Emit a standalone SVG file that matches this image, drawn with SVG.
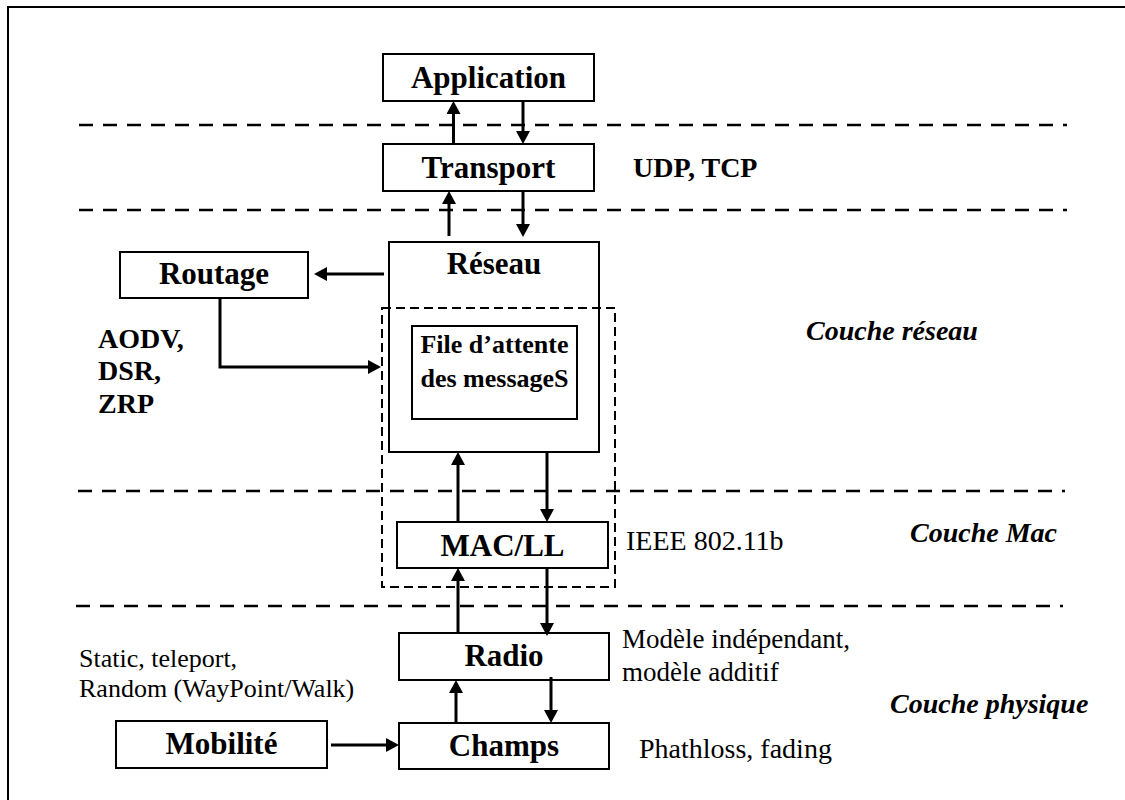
<svg xmlns="http://www.w3.org/2000/svg" width="1125" height="800" viewBox="0 0 1125 800">
  <style>
    .box { fill: #fff; stroke: #000; stroke-width: 2; }
    .layer { fill: none; stroke: #000; stroke-width: 2.5; stroke-dasharray: 14 10; }
    .group { fill: none; stroke: #000; stroke-width: 2; stroke-dasharray: 9 5; }
    .wire { fill: none; stroke: #000; stroke-width: 3; }
    .lbl { font-family: "Liberation Serif", "Times New Roman", serif; font-weight: bold; font-size: 31px; text-anchor: middle; fill: #000; }
    .small { font-size: 26px; }
    .note { font-family: "Liberation Serif", "Times New Roman", serif; font-size: 28px; fill: #000; }
    .bold { font-weight: bold; }
    .layername { font-family: "Liberation Serif", "Times New Roman", serif; font-weight: bold; font-style: italic; font-size: 28px; fill: #000; }
  </style>
  <defs>
    <marker id="head" viewBox="0 0 13 14" refX="1" refY="7" markerWidth="13" markerHeight="14" markerUnits="userSpaceOnUse" orient="auto">
      <path d="M0,0 L13,7 L0,14 z" fill="#000"/>
    </marker>
  </defs>

  <!-- frame -->
  <rect x="8" y="7" width="1130" height="800" fill="none" stroke="#000" stroke-width="2"/>

  <!-- layer separators -->
  <g id="separators">
    <line class="layer" x1="79" y1="125" x2="1067" y2="125"/>
    <line class="layer" x1="79" y1="210" x2="1067" y2="210"/>
    <line class="layer" x1="78" y1="491" x2="1065" y2="491"/>
    <line class="layer" x1="76" y1="606" x2="1063" y2="606"/>
  </g>

  <!-- nodes -->
  <g id="application">
    <rect class="box" x="383" y="54" width="211" height="47"/>
    <text class="lbl" x="488.5" y="88">Application</text>
  </g>
  <g id="transport">
    <rect class="box" x="383" y="144" width="211" height="47"/>
    <text class="lbl" x="488.5" y="178">Transport</text>
  </g>
  <text class="note bold" x="633" y="177">UDP, TCP</text>

  <g id="reseau">
    <rect class="box" x="389" y="242" width="210" height="210"/>
    <text class="lbl" x="494" y="274">Réseau</text>
  </g>
  <g id="file-attente">
    <rect class="box" x="412" y="326" width="165" height="93"/>
    <text class="lbl small" x="494.5" y="353">File d’attente</text>
    <text class="lbl small" x="494.5" y="387">des messageS</text>
  </g>
  <g id="routage">
    <rect class="box" x="120" y="252" width="188" height="46"/>
    <text class="lbl" x="214" y="284">Routage</text>
  </g>
  <g id="protocoles">
    <text class="note bold" x="98" y="348">AODV,</text>
    <text class="note bold" x="98" y="380">DSR,</text>
    <text class="note bold" x="98" y="413">ZRP</text>
  </g>
  <text class="layername" x="806" y="340">Couche réseau</text>

  <!-- dashed grouping around queue and MAC -->
  <rect id="groupe" class="group" x="382" y="308" width="233" height="279"/>

  <g id="mac">
    <rect class="box" x="397" y="522" width="211" height="46"/>
    <text class="lbl" x="502.5" y="556">MAC/LL</text>
  </g>
  <text class="note" x="626" y="550">IEEE 802.11b</text>
  <text class="layername" x="910" y="542">Couche Mac</text>

  <g id="radio">
    <rect class="box" x="399" y="633" width="210" height="47"/>
    <text class="lbl" x="504" y="666">Radio</text>
  </g>
  <text class="note" x="622" y="648" style="font-size:27px">Modèle indépendant,</text>
  <text class="note" x="622" y="681" style="font-size:27px">modèle additif</text>

  <text class="note" x="79" y="667" style="font-size:26px">Static, teleport,</text>
  <text class="note" x="79" y="697" style="font-size:26px">Random (WayPoint/Walk)</text>
  <text class="layername" x="890" y="713">Couche physique</text>

  <g id="mobilite">
    <rect class="box" x="116" y="721" width="211" height="47"/>
    <text class="lbl" x="221.5" y="754">Mobilité</text>
  </g>
  <g id="champs">
    <rect class="box" x="399" y="723" width="210" height="46"/>
    <text class="lbl" x="504" y="756">Champs</text>
  </g>
  <text class="note" x="639" y="758">Phathloss, fading</text>

  <!-- connectors -->
  <g id="connectors">
    <line class="wire" x1="453.5" y1="144" x2="453.5" y2="113" marker-end="url(#head)"/>
    <line class="wire" x1="523" y1="101" x2="523" y2="132" marker-end="url(#head)"/>
    <line class="wire" x1="449" y1="236" x2="449" y2="203" marker-end="url(#head)"/>
    <line class="wire" x1="523" y1="191" x2="523" y2="225" marker-end="url(#head)"/>
    <line class="wire" x1="384" y1="274" x2="326" y2="274" marker-end="url(#head)"/>
    <path class="wire" d="M220,298 V367 H369" marker-end="url(#head)"/>
    <line class="wire" x1="458" y1="522" x2="458" y2="464" marker-end="url(#head)"/>
    <line class="wire" x1="547" y1="452" x2="547" y2="510" marker-end="url(#head)"/>
    <line class="wire" x1="458" y1="633" x2="458" y2="580" marker-end="url(#head)"/>
    <line class="wire" x1="547" y1="568" x2="547" y2="624" marker-end="url(#head)"/>
    <line class="wire" x1="456" y1="723" x2="456" y2="692" marker-end="url(#head)"/>
    <line class="wire" x1="551" y1="677" x2="551" y2="711" marker-end="url(#head)"/>
    <line class="wire" x1="331" y1="745" x2="387" y2="745" marker-end="url(#head)"/>
  </g>
</svg>
